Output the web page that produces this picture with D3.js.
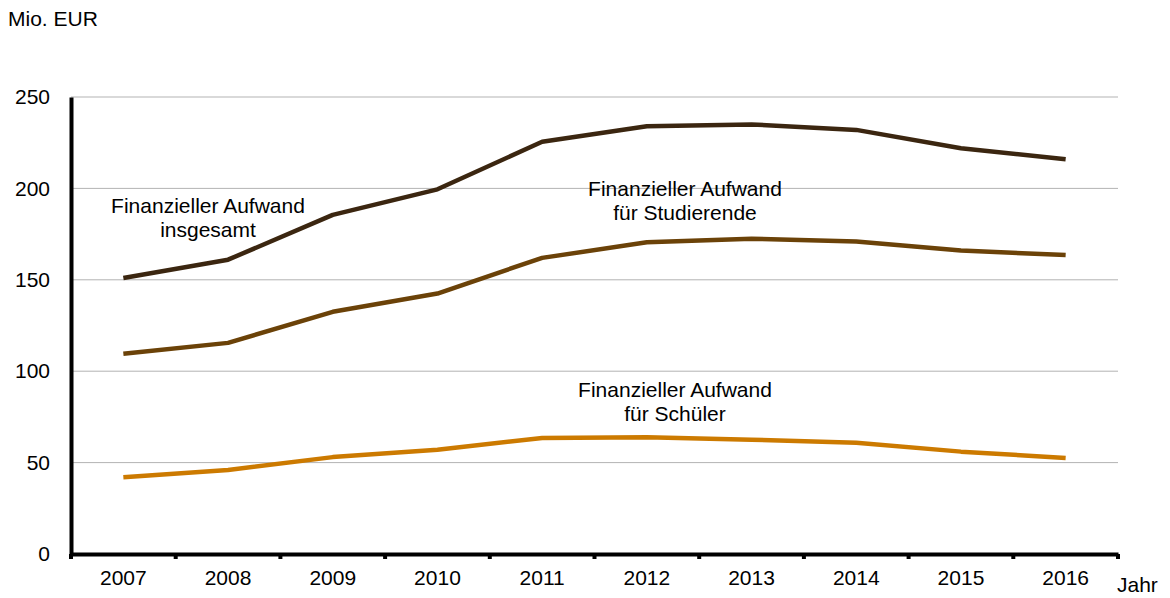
<!DOCTYPE html>
<html>
<head>
<meta charset="utf-8">
<script src="https://d3js.org/d3.v7.min.js"></script>
<style>
  body { margin: 0; background: #fff; }
  svg { font-family: "Liberation Sans", Arial, sans-serif; }
</style>
</head>
<body>
<svg id="chart" width="1170" height="598"></svg>
<script>
const years = ["2007", "2008", "2009", "2010", "2011", "2012", "2013", "2014", "2015", "2016"];
const insgesamt = [151, 161, 185.5, 199.5, 225.5, 234, 235, 232, 222, 216];
const studierende = [109.5, 115.5, 132.5, 142.5, 162, 170.5, 172.5, 171, 166, 163.5];
const schueler = [42, 46, 53, 57, 63.5, 63.8, 62.5, 60.8, 56, 52.5];
const yTicks = [0, 50, 100, 150, 200, 250];

const svg = d3.select("#chart");
const plotLeft = 71, plotRight = 1118, plotTop = 97, plotBottom = 554;
const fs = 21;

const x = d3.scaleBand().domain(years).range([plotLeft, plotRight]);
const y = d3.scaleLinear().domain([0, 250]).range([plotBottom, plotTop]);

// gridlines
svg.append("g")
  .selectAll("line")
  .data(yTicks.filter(d => d > 0))
  .enter().append("line")
  .attr("x1", plotLeft).attr("x2", plotRight)
  .attr("y1", d => y(d)).attr("y2", d => y(d))
  .attr("stroke", "#b3b3b3").attr("stroke-width", 1);

// y axis
const yAxis = svg.append("g")
  .attr("transform", `translate(${plotLeft},0)`)
  .call(d3.axisLeft(y).tickValues(yTicks).tickSize(0).tickPadding(21));
yAxis.select(".domain").attr("stroke", "#000").attr("stroke-width", 4);
yAxis.selectAll("text").attr("font-size", fs).attr("fill", "#000")
  .attr("font-family", "Liberation Sans, Arial, sans-serif");

// x axis
const xAxis = svg.append("g")
  .attr("transform", `translate(0,${plotBottom})`)
  .call(d3.axisBottom(x).tickSize(0).tickPadding(16));
xAxis.select(".domain").attr("stroke", "#000").attr("stroke-width", 4);
xAxis.selectAll("text").attr("font-size", fs).attr("fill", "#000")
  .attr("font-family", "Liberation Sans, Arial, sans-serif");

// boundary ticks between categories
const bounds = years.map(d => x(d)).concat([plotRight]);
svg.append("g")
  .selectAll("line")
  .data(bounds)
  .enter().append("line")
  .attr("x1", d => d).attr("x2", d => d)
  .attr("y1", plotBottom).attr("y2", plotBottom + 5)
  .attr("stroke", "#000").attr("stroke-width", 4);

const line = d3.line()
  .x((d, i) => x(years[i]) + x.bandwidth() / 2)
  .y(d => y(d));

const series = [
  { values: schueler, color: "#cc7a00" },
  { values: studierende, color: "#6b4208" },
  { values: insgesamt, color: "#3b2610" }
];
series.forEach(s => {
  svg.append("path")
    .datum(s.values)
    .attr("fill", "none")
    .attr("stroke", s.color)
    .attr("stroke-width", 4.5)
    .attr("stroke-linejoin", "round")
    .attr("d", line);
});

// labels
function label(lines, cx, y0) {
  const t = svg.append("text")
    .attr("text-anchor", "middle")
    .attr("font-size", fs)
    .attr("fill", "#000");
  lines.forEach((l, i) => {
    t.append("tspan").attr("x", cx).attr("y", y0 + i * 24).text(l);
  });
}
label(["Finanzieller Aufwand", "insgesamt"], 208, 213);
label(["Finanzieller Aufwand", "für Studierende"], 685, 196);
label(["Finanzieller Aufwand", "für Schüler"], 675, 397);

svg.append("text").attr("x", 8).attr("y", 26)
  .attr("font-size", fs).attr("fill", "#000").text("Mio. EUR");
svg.append("text").attr("x", 1117).attr("y", 592)
  .attr("font-size", fs).attr("fill", "#000").text("Jahr");
</script>
</body>
</html>
